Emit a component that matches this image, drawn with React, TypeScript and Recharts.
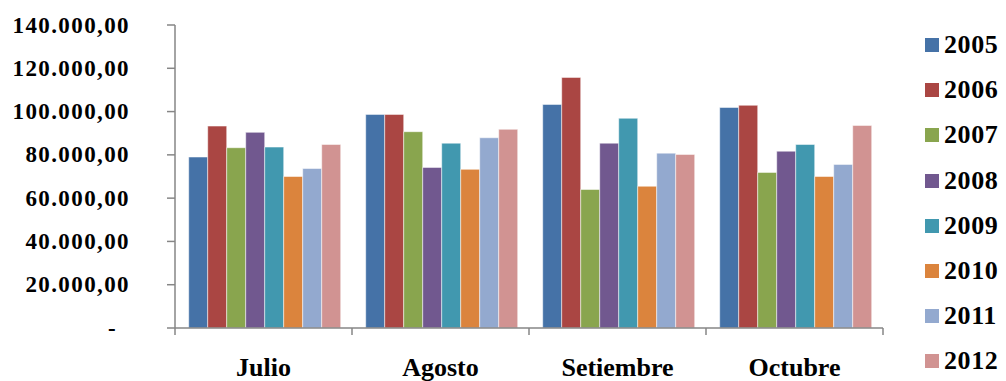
import React from 'react';
import { BarChart, Bar, XAxis, YAxis } from 'recharts';

const months = ['Julio', 'Agosto', 'Setiembre', 'Octubre'];
const years = ['2005', '2006', '2007', '2008', '2009', '2010', '2011', '2012'];
const colors = ['#4572A7', '#AA4643', '#89A54E', '#71588F', '#4198AF', '#DB843D', '#93A9CF', '#D19392'];

const v2005 = [79000, 98700, 103300, 101900];
const v2006 = [93300, 98700, 115800, 102900];
const v2007 = [83300, 90700, 64000, 71900];
const v2008 = [90400, 74200, 85400, 81700];
const v2009 = [83600, 85400, 96900, 84800];
const v2010 = [70000, 73300, 65500, 70000];
const v2011 = [73700, 87900, 80800, 75600];
const v2012 = [84800, 91800, 80200, 93600];

const yTicks = [0, 20000, 40000, 60000, 80000, 100000, 120000, 140000];

const seriesValues = [v2005, v2006, v2007, v2008, v2009, v2010, v2011, v2012];
const data = months.map((m, i) => {
  const row: Record<string, string | number> = { month: m };
  years.forEach((y, k) => {
    row[y] = seriesValues[k][i];
  });
  return row;
});

const FONT = "'Liberation Serif', serif";
const AXIS = '#868686';
const W = 1006;
const H = 381;
const M = { top: 25, right: 123, left: 0, bottom: 0 };
const Y_W = 175;
const X_H = 53;
const BAND = (W - M.right - Y_W) / months.length;

function fmt(v: number): string {
  if (v === 0) return '-';
  const s = Math.round(v).toString().replace(/\B(?=(\d{3})+(?!\d))/g, '.');
  return s + ',00';
}

const YTick = (props: any) => {
  const { x, y, payload } = props;
  const isZero = payload.value === 0;
  return (
    <text
      x={isZero ? x - 13 : x}
      y={y}
      textAnchor="end"
      dominantBaseline="central"
      fontFamily={FONT}
      fontWeight="bold"
      fontSize={23}
      letterSpacing={1.4}
      fill="#000"
    >
      {fmt(payload.value)}
    </text>
  );
};

const XTick = (props: any) => {
  const { x, y, payload, index } = props;
  const left = x - BAND / 2;
  const right = x + BAND / 2;
  return (
    <g>
      <line x1={left} x2={left} y1={y} y2={y + 7} stroke={AXIS} strokeWidth={1.5} />
      {index === months.length - 1 && (
        <line x1={right} x2={right} y1={y} y2={y + 7} stroke={AXIS} strokeWidth={1.5} />
      )}
      <text
        x={x}
        y={y + 48}
        textAnchor="middle"
        fontFamily={FONT}
        fontWeight="bold"
        fontSize={26}
        fill="#000"
      >
        {payload.value}
      </text>
    </g>
  );
};

export default function App() {
  return (
    <div style={{ position: 'absolute', left: 0, top: 0, width: W, height: H, background: '#fff' }}>
      <BarChart
        width={W}
        height={H}
        data={data}
        margin={M}
        barCategoryGap="7.75%"
        barGap={0}
      >
        <XAxis
          dataKey="month"
          height={X_H}
          tickLine={false}
          tickSize={0}
          tickMargin={0}
          axisLine={{ stroke: AXIS, strokeWidth: 1.5 }}
          tick={<XTick />}
          interval={0}
        />
        <YAxis
          width={Y_W}
          domain={[0, 140000]}
          ticks={yTicks}
          tickSize={8}
          tickMargin={37}
          axisLine={{ stroke: AXIS, strokeWidth: 1.5 }}
          tickLine={{ stroke: AXIS, strokeWidth: 1.5 }}
          tick={<YTick />}
          interval={0}
        />
        {years.map((y, k) => (
          <Bar
            key={y}
            dataKey={y}
            fill={colors[k]}
            stroke="#ffffff"
            strokeOpacity={0.5}
            strokeWidth={1}
            isAnimationActive={false}
          />
        ))}
      </BarChart>
      {years.map((y, k) => (
        <div
          key={y}
          style={{
            position: 'absolute',
            left: 925,
            top: 45 + k * 45.2 - 15,
            height: 30,
            display: 'flex',
            alignItems: 'center',
            fontFamily: FONT,
            fontWeight: 'bold',
            fontSize: 26,
            color: '#000',
            whiteSpace: 'nowrap',
          }}
        >
          <span style={{ display: 'inline-block', width: 14, height: 14, background: colors[k], marginRight: 5 }} />
          <span style={{ letterSpacing: 0.6 }}>{y}</span>
        </div>
      ))}
    </div>
  );
}
